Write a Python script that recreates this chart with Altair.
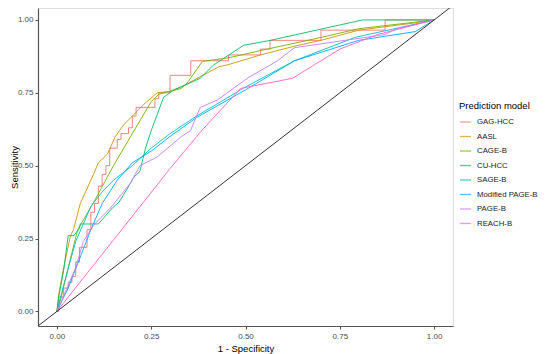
import altair as alt
import pandas as pd

models = ["GAG-HCC", "AASL", "CAGE-B", "CU-HCC", "SAGE-B", "Modified PAGE-B", "PAGE-B", "REACH-B"]
colors = ["#F8766D", "#CD9600", "#7CAE00", "#00BE67", "#00BFC4", "#00A9FF", "#C77CFF", "#FF61CC"]

# GAG-HCC (step curve: y jumps at x)
gag_x = [0, 0.005, 0.018, 0.03, 0.04, 0.05, 0.06, 0.08, 0.09, 0.10, 0.11, 0.12, 0.13, 0.14, 0.16, 0.17, 0.19, 0.20, 0.21, 0.25, 0.26, 0.27, 0.29, 0.30, 0.355, 0.455, 0.54, 0.565, 0.70, 0.87, 1.0]
gag_y = [0, 0.05, 0.08, 0.10, 0.12, 0.17, 0.22, 0.28, 0.34, 0.37, 0.43, 0.47, 0.50, 0.56, 0.59, 0.61, 0.63, 0.67, 0.70, 0.70, 0.73, 0.75, 0.75, 0.81, 0.86, 0.88, 0.90, 0.93, 0.965, 1.0, 1.0]

aasl_x = [0, 0.005, 0.018, 0.036, 0.044, 0.062, 0.097, 0.11, 0.134, 0.155, 0.177, 0.20, 0.23, 0.266, 0.30, 0.33, 0.43, 0.45, 0.54, 0.63, 0.70, 0.80, 0.95, 1.0]
aasl_y = [0, 0.06, 0.15, 0.26, 0.28, 0.37, 0.47, 0.51, 0.54, 0.60, 0.64, 0.67, 0.71, 0.75, 0.755, 0.77, 0.84, 0.845, 0.88, 0.91, 0.93, 0.965, 0.99, 1.0]

cage_x = [0, 0.01, 0.03, 0.055, 0.10, 0.15, 0.20, 0.25, 0.27, 0.33, 0.346, 0.386, 0.455, 0.54, 0.70, 0.80, 1.0]
cage_y = [0, 0.04, 0.15, 0.28, 0.38, 0.50, 0.61, 0.72, 0.745, 0.765, 0.785, 0.858, 0.87, 0.895, 0.94, 0.97, 1.0]

cu_x = [0, 0.005, 0.018, 0.03, 0.045, 0.06, 0.062, 0.11, 0.147, 0.165, 0.186, 0.204, 0.22, 0.235, 0.25, 0.283, 0.31, 0.346, 0.38, 0.415, 0.495, 0.566, 0.81, 1.0]
cu_y = [0, 0.05, 0.14, 0.26, 0.26, 0.285, 0.30, 0.30, 0.355, 0.375, 0.42, 0.46, 0.48, 0.56, 0.62, 0.735, 0.76, 0.78, 0.80, 0.845, 0.913, 0.93, 1.0, 1.0]

sage_x = [0, 0.02, 0.05, 0.07, 0.09, 0.12, 0.15, 0.20, 0.25, 0.30, 0.37, 0.50, 0.63, 0.79, 1.0]
sage_y = [0, 0.10, 0.24, 0.30, 0.36, 0.41, 0.45, 0.50, 0.56, 0.61, 0.67, 0.77, 0.86, 0.94, 1.0]

mpage_x = [0, 0.03, 0.06, 0.09, 0.12, 0.16, 0.20, 0.25, 0.30, 0.37, 0.50, 0.63, 0.80, 0.95, 1.0]
mpage_y = [0, 0.08, 0.18, 0.28, 0.37, 0.45, 0.51, 0.55, 0.60, 0.665, 0.76, 0.86, 0.93, 0.96, 1.0]

page_x = [0, 0.02, 0.05, 0.07, 0.10, 0.142, 0.17, 0.195, 0.22, 0.266, 0.33, 0.354, 0.38, 0.425, 0.505, 0.585, 0.63, 0.79, 0.87, 0.90, 1.0]
page_y = [0, 0.06, 0.15, 0.24, 0.30, 0.355, 0.40, 0.44, 0.50, 0.53, 0.60, 0.62, 0.70, 0.725, 0.80, 0.86, 0.905, 0.935, 0.95, 0.97, 1.0]

reach_x = [0, 0.30, 0.38, 0.487, 0.625, 0.75, 0.85, 1.0]
reach_y = [0, 0.49, 0.615, 0.765, 0.80, 0.90, 0.95, 1.0]

series = {
    "GAG-HCC": (gag_x, gag_y),
    "AASL": (aasl_x, aasl_y),
    "CAGE-B": (cage_x, cage_y),
    "CU-HCC": (cu_x, cu_y),
    "SAGE-B": (sage_x, sage_y),
    "Modified PAGE-B": (mpage_x, mpage_y),
    "PAGE-B": (page_x, page_y),
    "REACH-B": (reach_x, reach_y),
}

rows = []
for m, (xs_, ys_) in series.items():
    for i, (a, b) in enumerate(zip(xs_, ys_)):
        rows.append({"model": m, "fpr": a, "tpr": b, "idx": i})
df = pd.DataFrame(rows)

diag = pd.DataFrame({"fpr": [-0.05, 1.05], "tpr": [-0.05, 1.05]})

xs = alt.Scale(domain=[-0.05, 1.05], nice=False, zero=False)
ys = alt.Scale(domain=[-0.05, 1.041], nice=False, zero=False)

FONT = "Liberation Sans"

color = alt.Color(
    "model:N",
    scale=alt.Scale(domain=models, range=colors),
    sort=models,
    legend=alt.Legend(
        title="Prediction model",
        orient="none",
        legendX=421,
        legendY=93,
        symbolType="stroke",
        symbolSize=121,
        symbolStrokeWidth=1.3,
        symbolOpacity=0.7,
        titleFontSize=9.5,
        titleFontWeight="normal",
        titleColor="#000000",
        titleFont=FONT,
        labelFont=FONT,
        labelFontSize=7.8,
        labelColor="#1a1a1a",
        rowPadding=3.5,
        titlePadding=5,
        labelOffset=5,
    ),
)

xaxis = alt.Axis(values=[0, 0.25, 0.5, 0.75, 1.0], format=".2f", title="1 - Specificity",
                 grid=False, domainColor="#555555", domainWidth=1.2, tickColor="#555555",
                 tickSize=3, labelColor="#4D4D4D", labelFontSize=8, labelFont=FONT,
                 titleFont=FONT, titleFontSize=9.5, titleFontWeight="normal",
                 titleColor="#000000", labelPadding=3, titlePadding=3)
yaxis = alt.Axis(values=[0, 0.25, 0.5, 0.75, 1.0], format=".2f", title="Sensitivity",
                 grid=False, domainColor="#555555", domainWidth=1.2, tickColor="#555555",
                 tickSize=3, labelColor="#4D4D4D", labelFontSize=8, labelFont=FONT,
                 titleFont=FONT, titleFontSize=9.5, titleFontWeight="normal",
                 titleColor="#000000", labelPadding=2,
                 titleX=-24, titleY=159, titleAngle=270, titleAlign="center",
                 titleBaseline="middle")

base = alt.Chart(df)

gag_layer = base.transform_filter(alt.datum.model == "GAG-HCC").mark_line(
    interpolate="step-after", strokeWidth=1, clip=True, opacity=0.9
).encode(
    x=alt.X("fpr:Q", scale=xs, axis=xaxis),
    y=alt.Y("tpr:Q", scale=ys, axis=yaxis),
    color=color,
    order=alt.Order("idx:Q"),
)

other_layer = base.transform_filter(alt.datum.model != "GAG-HCC").mark_line(
    strokeWidth=1, clip=True, opacity=0.9
).encode(
    x=alt.X("fpr:Q", scale=xs),
    y=alt.Y("tpr:Q", scale=ys),
    color=color,
    detail="model:N",
    order=alt.Order("idx:Q"),
)

diag_layer = alt.Chart(diag).mark_line(color="#333333", strokeWidth=1, clip=True).encode(
    x=alt.X("fpr:Q", scale=xs),
    y=alt.Y("tpr:Q", scale=ys),
)

chart = alt.layer(gag_layer, other_layer, diag_layer).properties(
    width=415,
    height=318,
    autosize=alt.AutoSizeParams(type="none"),
    padding={"left": 30, "top": 0, "right": 89, "bottom": 28},
).configure_view(stroke=None).configure(background="white")

chart.save("out.html", embed_options={"renderer": "svg", "actions": False})
